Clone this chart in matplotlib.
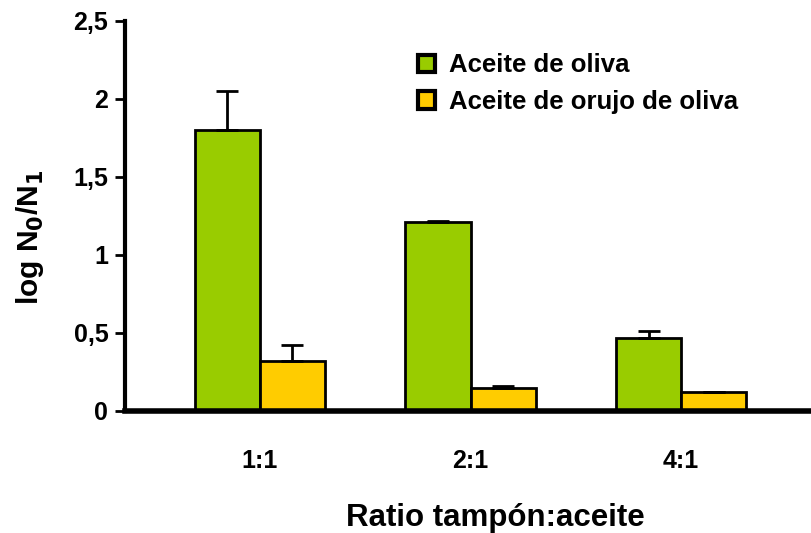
import matplotlib
matplotlib.use("Agg")
import matplotlib.pyplot as plt
from matplotlib.patches import Patch
import numpy as np

plt.rcParams['font.family'] = ['Liberation Sans', 'DejaVu Sans']
plt.rcParams['font.weight'] = 'bold'

categories = ["1:1", "2:1", "4:1"]
series_names = ["Aceite de oliva", "Aceite de orujo de oliva"]
oliva = [1.80, 1.21, 0.47]
oliva_err = [0.25, 0.005, 0.04]
orujo = [0.32, 0.15, 0.12]
orujo_err = [0.10, 0.01, 0.003]
yticks = [0, 0.5, 1, 1.5, 2, 2.5]
ytick_labels = ["0", "0,5", "1", "1,5", "2", "2,5"]

colors = ["#99CC00", "#FFCC00"]

W, H = 812, 533
fig = plt.figure(figsize=(W/100, H/100), dpi=100)
ax = fig.add_axes([125/W, 1-411/H, (W-125)/W, (411-21)/H])

x = np.arange(len(categories))
w = 0.309
err_kw = dict(ecolor='black', elinewidth=2, capsize=8, capthick=2)
ax.bar(x - w/2, oliva, w, color=colors[0], edgecolor='black', linewidth=2,
       yerr=[np.zeros(3), oliva_err], error_kw=err_kw, zorder=2)
ax.bar(x + w/2, orujo, w, color=colors[1], edgecolor='black', linewidth=2,
       yerr=[np.zeros(3), orujo_err], error_kw=err_kw, zorder=2)

ax.set_ylim(0, 2.5)
ax.set_xlim(-0.641, 2.622)
ax.set_yticks(yticks)
ax.set_yticklabels(ytick_labels, fontsize=18, fontweight='bold')
ax.set_xticks(x)
ax.set_xticklabels(categories, fontsize=18, fontweight='bold')
ax.tick_params(axis='x', length=0, pad=27)
ax.tick_params(axis='y', length=7, width=2, pad=5, direction='out')

for s in ['top', 'right']:
    ax.spines[s].set_visible(False)
ax.spines['left'].set_linewidth(3)
ax.spines['bottom'].set_linewidth(4)

fig.text(495/W, 1-518/H, "Ratio tampón:aceite", ha='center', va='center',
         fontsize=22.5, fontweight='bold')
fig.text(30/W, 1-237/H, r"log N$_\mathbf{0}$/N$_\mathbf{1}$", ha='center', va='center',
         rotation=90, fontsize=21.5, fontweight='bold')

handles = [Patch(facecolor=c, edgecolor='black', linewidth=3) for c in colors]
fig.legend(handles, series_names, loc='upper left', bbox_to_anchor=(395/W, 1-30/H),
           frameon=False, handlelength=0.65, handleheight=0.65,
           handletextpad=0.55, labelspacing=0.5, prop={'weight': 'bold', 'size': 18.5})

fig.savefig("out.png", dpi=100)
